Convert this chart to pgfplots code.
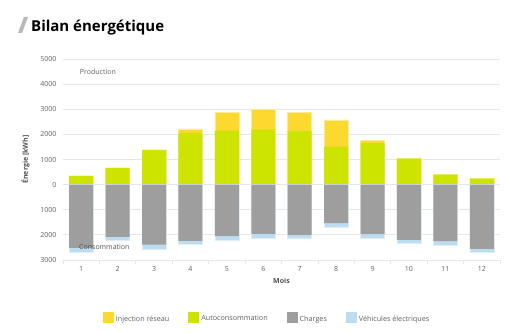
\documentclass[border=0pt]{standalone}
\usepackage{fontspec}
\setmainfont{Open Sans}
\usepackage{pgfplots}
\pgfplotsset{compat=1.18}
\definecolor{cyel}{HTML}{FBD92E}
\definecolor{cgrn}{HTML}{CDE300}
\definecolor{cgry}{HTML}{9E9E9E}
\definecolor{cblu}{HTML}{BCDDF0}
\definecolor{ctxt}{HTML}{5F5F5F}
\definecolor{cgrid}{HTML}{E6E6E6}
\begin{document}
\begin{tikzpicture}[x=1pt,y=1pt]
\useasboundingbox (0,0) rectangle (524,334);
\fill[gray!55] (18,301) -- (22,301) -- (28,317) -- (24,317) -- cycle;
\node[anchor=base west, inner sep=0pt, font=\bfseries\fontsize{15}{18}\selectfont] at (31,302) {Bilan énergétique};
\begin{axis}[
  at={(63pt,74pt)}, anchor=south west,
  width=437pt, height=201pt, scale only axis,
  xmin=0.5, xmax=12.5, ymin=-3000, ymax=5000,
  ybar, bar width=24pt, bar shift=0pt,
  /pgf/number format/assume math mode=true,
  xtick={1,...,12}, xticklabels={1,2,3,4,5,6,7,8,9,10,11,12},
  minor xtick={0.5,1.5,...,12.5},
  ytick={-3000,-2000,...,5000},
  yticklabels={3000,2000,1000,0,1000,2000,3000,4000,5000},
  ymajorgrids, major grid style={draw=cgrid, line width=0.8pt},
  axis x line*=bottom, axis y line*=left,
  y axis line style={draw=none},
  x axis line style={draw=cgrid, line width=0.8pt, -},
  major tick length=0pt, minor tick length=4pt,
  tick align=outside,
  minor tick style={draw=cgrid, line width=0.8pt},
  ticklabel style={font=\fontsize{7}{8}\selectfont, text=ctxt},
  xticklabel style={yshift=-3pt},
  yticklabel style={xshift=-3pt},
  xlabel={Mois}, ylabel={Énergie [kWh]},
  label style={font=\bfseries\fontsize{7}{8}\selectfont, text=ctxt!85!black},
  xlabel style={yshift=0pt},
  ylabel style={yshift=4pt},
  legend style={at={(0.467,-0.290)}, anchor=center, draw=none, fill=none,
    legend columns=4, font=\fontsize{7.2}{8}\selectfont, text=ctxt,
    /tikz/every even column/.append style={column sep=17pt}},
  legend image code/.code={\fill[#1] (0pt,-4pt) rectangle (11pt,7pt);},
]
% Injection reseau (stack top = autoconsommation + injection)
\addplot[fill=cyel, draw=cyel!50!white, line width=0.5pt, forget plot] coordinates {
(1,350) (2,670) (3,1380) (4,2220) (5,2880) (6,3010) (7,2890) (8,2580) (9,1750) (10,1030) (11,400) (12,240)};
% Autoconsommation
\addplot[fill=cgrn, draw=none, forget plot] coordinates {
(1,350) (2,670) (3,1380) (4,2050) (5,2150) (6,2190) (7,2130) (8,1510) (9,1650) (10,1030) (11,400) (12,240)};
% Vehicules electriques (stack bottom = charges + VE)
\addplot[fill=cblu, draw=cblu!50!white, line width=0.5pt, forget plot] coordinates {
(1,-2680) (2,-2220) (3,-2560) (4,-2390) (5,-2210) (6,-2130) (7,-2150) (8,-1690) (9,-2130) (10,-2350) (11,-2400) (12,-2710)};
% Charges
\addplot[fill=cgry, draw=none, forget plot] coordinates {
(1,-2520) (2,-2080) (3,-2390) (4,-2240) (5,-2050) (6,-1960) (7,-2000) (8,-1530) (9,-1970) (10,-2200) (11,-2250) (12,-2560)};
\addlegendimage{fill=cyel, draw=none}
\addlegendentry{Injection réseau}
\addlegendimage{fill=cgrn, draw=none}
\addlegendentry{Autoconsommation}
\addlegendimage{fill=cgry, draw=none}
\addlegendentry{Charges}
\addlegendimage{fill=cblu, draw=none}
\addlegendentry{Véhicules électriques}
\node[anchor=west, inner sep=0pt, font=\fontsize{7}{8}\selectfont, text=ctxt] at (axis cs:0.96,4470) {Production};
\node[anchor=west, inner sep=0pt, font=\fontsize{7}{8}\selectfont, text=ctxt!85!black] at (axis cs:0.94,-2470) {Consommation};
\end{axis}
\end{tikzpicture}
\end{document}
